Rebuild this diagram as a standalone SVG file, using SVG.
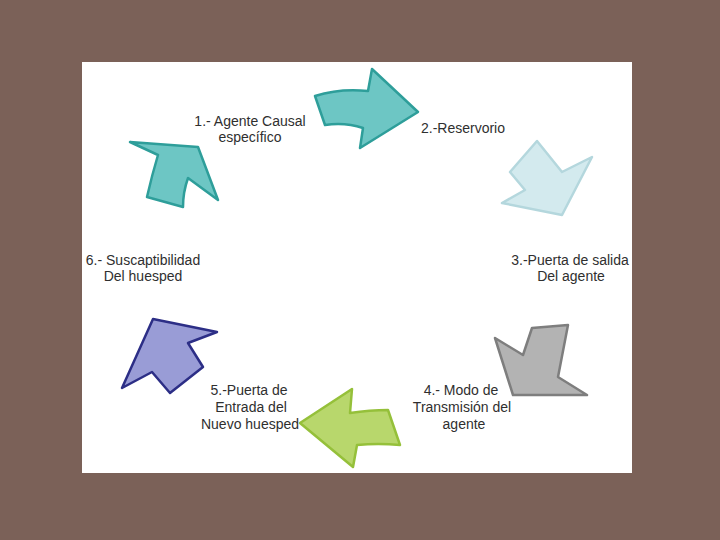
<svg xmlns="http://www.w3.org/2000/svg" width="720" height="540" viewBox="0 0 720 540">
<style>
.lbl{font-family:"Liberation Sans",Arial,sans-serif;font-size:14px;fill:#2f2f2f;text-anchor:middle}
.arr{stroke-width:2.5;stroke-linejoin:round}
</style>
<rect x="0" y="0" width="720" height="540" fill="#7b6158"/>
<rect x="82" y="62" width="550" height="411" fill="#ffffff"/>
<g id="connectors">
<path id="a1" class="arr" fill="#6dc6c4" stroke="#2e9e9a" d="M315,96 Q340,88 368,91 L372,69 L418,112 L360,148 L363,128 Q345,122 325,125 Z"/>
<path id="a2" class="arr" fill="#d3eaee" stroke="#b4d7dd" d="M537,141 L562,172 L592,157 L562,215 L502,203 L525,190 L510,172 Z"/>
<path id="a3" class="arr" fill="#b3b3b3" stroke="#7e7e7e" d="M532,328 L568,325 L558,377 L587,395 L513,395 L495,338 L523,355 Z"/>
<path id="a4" class="arr" fill="#b8d76c" stroke="#95c03a" d="M300,423 L352,389 L350,413 Q370,410 388,410 L400,445 Q378,443 357,445 L353,467 Z"/>
<path id="a5" class="arr" fill="#999cd6" stroke="#2c2e86" d="M153,319 L217,332 L188,343 L203,367 L170,393 L152,372 L122,388 Z"/>
<path id="a6" class="arr" fill="#6dc6c4" stroke="#2e9e9a" d="M130,142 L198,147 L218,200 L188,178 Q183,192 183,207 L147,197 Q152,175 158,155 Z"/>
</g>
<g id="n1"><text class="lbl" x="250" y="126">1.- Agente Causal</text><text class="lbl" x="250" y="142">específico</text></g>
<g id="n2"><text class="lbl" x="463" y="133">2.-Reservorio</text></g>
<g id="n3"><text class="lbl" x="570" y="265">3.-Puerta de salida</text><text class="lbl" x="571" y="281">Del agente</text></g>
<g id="n4"><text class="lbl" x="461" y="395">4.- Modo de</text><text class="lbl" x="462" y="412">Transmisión del</text><text class="lbl" x="464" y="429">agente</text></g>
<g id="n5"><text class="lbl" x="249" y="395">5.-Puerta de</text><text class="lbl" x="251" y="412">Entrada del</text><text class="lbl" x="250" y="429">Nuevo huesped</text></g>
<g id="n6"><text class="lbl" x="143" y="265">6.- Suscaptibilidad</text><text class="lbl" x="143" y="281">Del huesped</text></g>
</svg>
